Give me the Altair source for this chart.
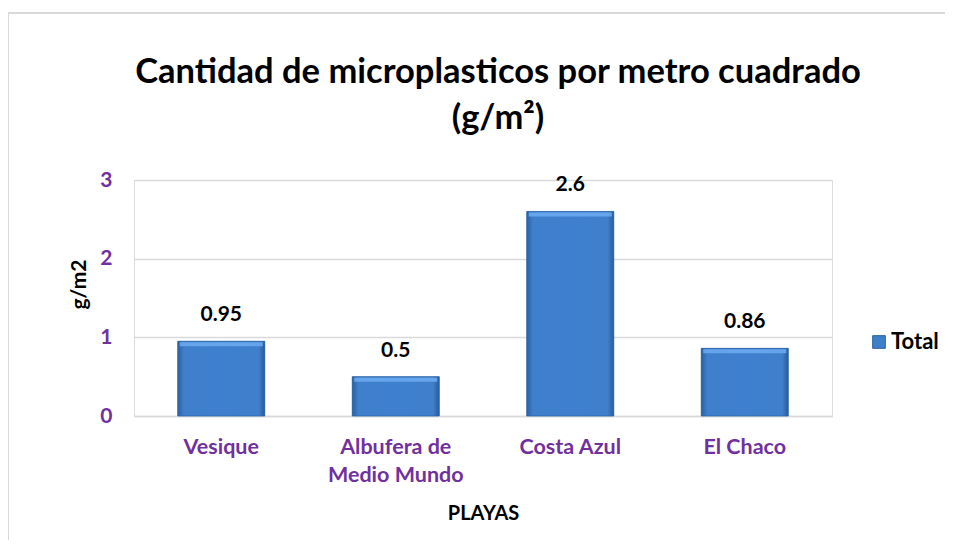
import altair as alt
import pandas as pd

playas = ["Vesique", "Albufera de Medio Mundo", "Costa Azul", "El Chaco"]
valores = [0.95, 0.5, 2.6, 0.86]
serie = ["Total", "Total", "Total", "Total"]
y_ticks = [0, 1, 2, 3]

df = pd.DataFrame({"playa": playas, "valor": valores, "serie": serie})

FONT = "Lato"
PURPLE = "#7030A0"

x_enc = alt.X(
    "playa:N",
    sort=playas,
    title="PLAYAS",
    scale=alt.Scale(paddingInner=0.5, paddingOuter=0.25),
    axis=alt.Axis(
        labelAngle=0,
        labelColor=PURPLE,
        labelFont=FONT,
        labelFontSize=21.5,
        labelFontWeight="bold",
        labelLineHeight=28,
        labelPadding=20,
        labelExpr="datum.value == 'Albufera de Medio Mundo' ? ['Albufera de', 'Medio Mundo'] : datum.label",
        ticks=False,
        domain=True,
        domainColor="#d9d9d9",
        domainWidth=1.5,
        titleFont=FONT,
        titleFontSize=20,
        titleFontWeight="bold",
        titleColor="black",
        titlePadding=18,
    ),
)

y_enc = alt.Y(
    "valor:Q",
    title="g/m2",
    scale=alt.Scale(domain=[0, 3]),
    axis=alt.Axis(
        values=y_ticks,
        format="d",
        labelColor=PURPLE,
        labelFont=FONT,
        labelFontSize=21,
        labelFontWeight="bold",
        labelPadding=22,
        ticks=False,
        domain=False,
        grid=True,
        gridColor="#d9d9d9",
        gridWidth=1.5,
        titleFont=FONT,
        titleFontSize=21,
        titleFontWeight="bold",
        titleColor="black",
        titlePadding=10,
        titleY=104,
    ),
)

base = alt.Chart(df)

bars_legend = base.mark_bar(size=87).encode(
    x=x_enc,
    y=y_enc,
    color=alt.Color(
        "serie:N",
        scale=alt.Scale(range=["#3E7FCC"]),
        legend=alt.Legend(
            title=None,
            orient="none",
            legendX=734,
            legendY=151,
            padding=0,
            symbolType="square",
            symbolSize=160,
            symbolStrokeColor="#2b5f9e",
            symbolStrokeWidth=1,
            labelFont=FONT,
            labelFontSize=22,
            labelFontWeight="bold",
            labelColor="black",
            labelOffset=1,
        ),
    ),
)

gradient = alt.Gradient(
    gradient="linear",
    x1=0, x2=1, y1=0, y2=0,
    stops=[
        alt.GradientStop(offset=0, color="#2c5f9f"),
        alt.GradientStop(offset=0.07, color="#3f7fcb"),
        alt.GradientStop(offset=0.5, color="#3e80cf"),
        alt.GradientStop(offset=0.93, color="#3f7fcb"),
        alt.GradientStop(offset=1, color="#2a5a98"),
    ],
)

bars_fill = base.mark_bar(size=87, fill=gradient, stroke="#2f64a6", strokeWidth=0.8).encode(
    x=alt.X("playa:N", sort=playas),
    y="valor:Q",
)

top_hl = base.mark_tick(size=83, thickness=4, color="#6aa8ee", yOffset=3, opacity=0.9).encode(
    x=alt.X("playa:N", sort=playas),
    y="valor:Q",
)

labels = base.mark_text(
    dy=-26, font=FONT, fontSize=21, fontWeight="bold", color="black", baseline="middle"
).encode(
    x=alt.X("playa:N", sort=playas),
    y="valor:Q",
    text=alt.Text("valor:Q"),
)

border_top = base.mark_rule(color="#d9d9d9", strokeWidth=1.5, clip=False).encode(
    x=alt.value(-126), x2=alt.value(900), y=alt.value(-167)
)
border_left = base.mark_rule(color="#d9d9d9", strokeWidth=1.5, clip=False).encode(
    x=alt.value(-126), y=alt.value(-167), y2=alt.value(400)
)

chart = (
    alt.layer(border_top, border_left, bars_legend, bars_fill, top_hl, labels)
    .properties(
        width=698,
        height=236,
        padding={"left": 126, "top": 172, "right": 113, "bottom": 124},
        autosize=alt.AutoSizeParams(type="none"),
        title=alt.TitleParams(
            text=["Cantidad de microplasticos por metro cuadrado", "(g/m²)"],
            font=FONT,
            fontSize=34.5,
            fontWeight="bold",
            color="black",
            anchor="middle",
            lineHeight=46,
            dx=15,
            dy=124,
            offset=0,
        ),
    )
    .configure_view(strokeOpacity=0, strokeWidth=0)
    .configure(background="white")
)

chart.save("out.html", embed_options={"renderer": "svg", "actions": False})
